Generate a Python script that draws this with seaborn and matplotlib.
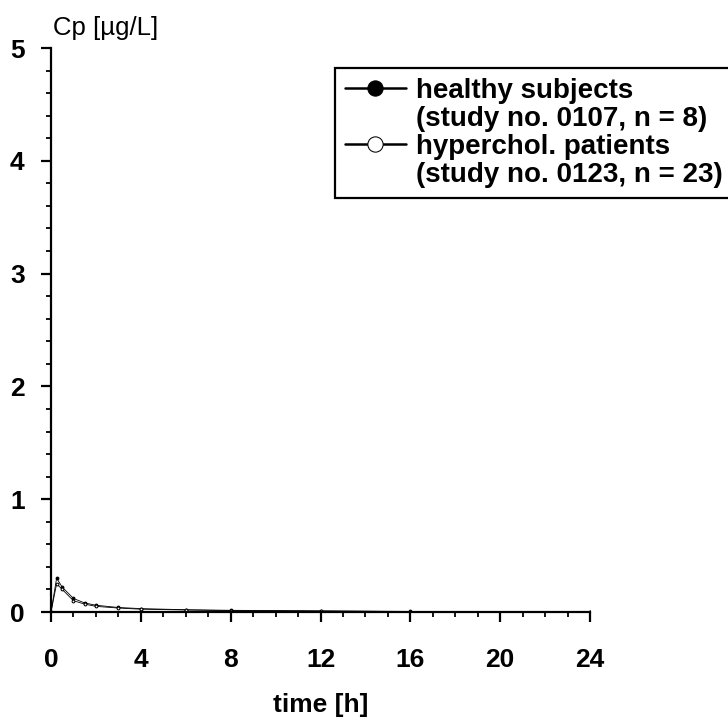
import matplotlib
matplotlib.use("Agg")
import matplotlib.pyplot as plt
from matplotlib.lines import Line2D
import seaborn as sns
import pandas as pd
from matplotlib.ticker import MultipleLocator

# ---- data (curves lie close to zero) ----
time_h = [0, 0.25, 0.5, 1, 1.5, 2, 3, 4, 6, 8, 12, 16, 24]
healthy = [0.0, 0.30, 0.22, 0.12, 0.08, 0.06, 0.04, 0.03, 0.02, 0.015, 0.01, 0.005, 0.0]
patients = [0.0, 0.25, 0.20, 0.10, 0.07, 0.05, 0.035, 0.025, 0.018, 0.012, 0.008, 0.004, 0.0]
series_names = ["healthy subjects", "hyperchol. patients"]
series_notes = ["(study no. 0107, n = 8)", "(study no. 0123, n = 23)"]
x_ticks = [0, 4, 8, 12, 16, 20, 24]
y_ticks = [0, 1, 2, 3, 4, 5]

sns.set_theme(style="ticks")
plt.rcParams["font.family"] = ["Liberation Sans", "DejaVu Sans"]
plt.rcParams["text.color"] = "black"
plt.rcParams["axes.labelcolor"] = "black"
plt.rcParams["xtick.color"] = "black"
plt.rcParams["ytick.color"] = "black"

df = pd.DataFrame({
    "time": time_h * 2,
    "cp": healthy + patients,
    "group": [series_names[0]] * len(time_h) + [series_names[1]] * len(time_h),
})

fig = plt.figure(figsize=(7.28, 7.19), dpi=100)
ax = fig.add_axes([51 / 728, 1 - 612 / 719, (590 - 51) / 728, (612 - 48) / 719])

sns.lineplot(data=df[df.group == series_names[0]], x="time", y="cp", ax=ax,
             color="black", marker="o", markersize=2, linewidth=0.6,
             markerfacecolor="black", markeredgecolor="black",
             label=series_names[0])
sns.lineplot(data=df[df.group == series_names[1]], x="time", y="cp", ax=ax,
             color="black", marker="o", markersize=2, linewidth=0.6,
             markerfacecolor="white", markeredgecolor="black",
             label=series_names[1])

ax.set_xlim(0, 24)
ax.set_ylim(0, 5)
ax.set_xticks(x_ticks)
ax.set_yticks(y_ticks)
ax.xaxis.set_minor_locator(MultipleLocator(1))
ax.yaxis.set_minor_locator(MultipleLocator(0.2))
ax.tick_params(axis="both", which="major", direction="out", length=7, width=1.6,
               colors="black", labelcolor="black", labelsize=19)
ax.tick_params(axis="both", which="minor", direction="out", length=3.5, width=1.3,
               colors="black")
ax.tick_params(axis="x", which="major", pad=19)
ax.tick_params(axis="y", which="major", pad=12)
for lab in ax.get_xticklabels() + ax.get_yticklabels():
    lab.set_fontweight("bold")
    lab.set_color("black")

for s in ["top", "right"]:
    ax.spines[s].set_visible(False)
for s in ["left", "bottom"]:
    ax.spines[s].set_color("black")
    ax.spines[s].set_linewidth(1.6)

ax.set_ylabel("")
ax.set_xlabel("time [h]", fontsize=19, fontweight="bold", labelpad=15, color="black")
fig.text(53 / 728, 1 - 28 / 719, "Cp [µg/L]", fontsize=18.5, ha="left", va="center",
         color="black")

# legend: series handle on the first line, study note on its own line
handles, _ = ax.get_legend_handles_labels()
blank = Line2D([], [], linestyle="none", marker=None)
leg_handles = [handles[0], blank, handles[1], blank]
leg_labels = [series_names[0], series_notes[0], series_names[1], series_notes[1]]
leg = ax.legend(leg_handles, leg_labels, loc="upper left",
                bbox_to_anchor=(335 / 728, 1 - 68 / 719),
                bbox_transform=fig.transFigure, frameon=True, fancybox=False,
                edgecolor="black", framealpha=1, fontsize=20, markerscale=5.5,
                handlelength=2.2, handletextpad=0.35, borderpad=0.35,
                labelspacing=0.08, borderaxespad=0)
leg.get_frame().set_linewidth(1.6)
for t in leg.get_texts():
    t.set_fontweight("bold")
    t.set_color("black")
for h in leg.get_lines():
    h.set_linewidth(1.8)

fig.savefig("out.png", dpi=100)
